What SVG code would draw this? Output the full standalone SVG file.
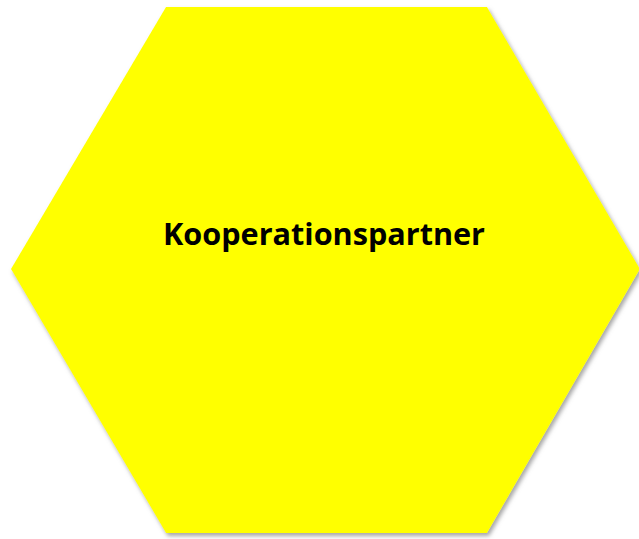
<svg xmlns="http://www.w3.org/2000/svg" width="639" height="539" viewBox="0 0 639 539">
<style>
.hex{fill:#ffff00;}
.lbl{font-family:"Open Sans","Liberation Sans",Arial,sans-serif;font-weight:bold;font-size:31px;fill:#000;}
</style>
<defs>
<filter id="sh" x="-10%" y="-10%" width="120%" height="120%">
<feGaussianBlur in="SourceAlpha" stdDeviation="2"/>
<feOffset dx="2" dy="3" result="b"/>
<feFlood flood-color="#808080" flood-opacity="0.7"/>
<feComposite in2="b" operator="in"/>
<feMerge><feMergeNode/><feMergeNode in="SourceGraphic"/></feMerge>
</filter>
</defs>
<g id="node-kooperationspartner">
<polygon class="hex" filter="url(#sh)" points="166,7 487,7 640,269 487,533 166,533 11,269"/>
<text class="lbl" x="324" y="245" text-anchor="middle" textLength="322" lengthAdjust="spacingAndGlyphs">Kooperationspartner</text>
</g>
<g id="connectors"/>
</svg>
